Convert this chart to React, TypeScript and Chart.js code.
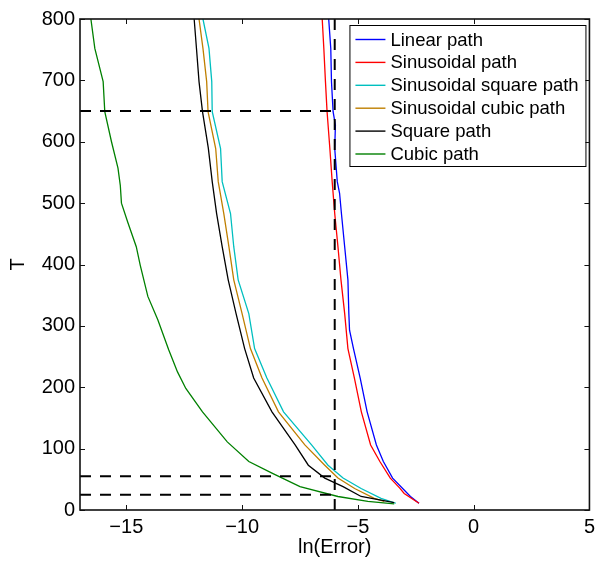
import React, { useEffect, useRef } from 'react';
import { Chart, registerables } from 'chart.js';

Chart.register(...registerables);

// ---- axes ----
const X_MIN = -17;
const X_MAX = 5;
const Y_MIN = 0;
const Y_MAX = 800;
const X_TICKS = [-15, -10, -5, 0, 5];
const X_TICK_LABELS = ['−15', '−10', '−5', '0', '5'];
const Y_TICKS = [0, 100, 200, 300, 400, 500, 600, 700, 800];
const Y_TICK_LABELS = ['0', '100', '200', '300', '400', '500', '600', '700', '800'];
const X_TITLE = 'ln(Error)';
const Y_TITLE = 'T';

// ---- series (T values and ln(Error) values) ----
const LINEAR_T = [800, 752, 698, 649, 627, 589, 535, 516, 483, 429, 375, 320, 293, 263, 215, 160, 106, 79, 52, 22, 11];
const LINEAR_ERR = [-6.26, -6.17, -6.14, -6.07, -5.97, -6.0, -5.89, -5.79, -5.71, -5.57, -5.43, -5.39, -5.36, -5.19, -4.9, -4.6, -4.2, -3.9, -3.5, -2.73, -2.36];

const SIN_T = [800, 752, 698, 649, 589, 535, 483, 429, 375, 320, 263, 215, 160, 106, 79, 52, 36, 27, 11];
const SIN_ERR = [-6.54, -6.47, -6.4, -6.33, -6.21, -6.11, -6.0, -5.86, -5.73, -5.57, -5.43, -5.15, -4.85, -4.45, -4.05, -3.6, -3.2, -3.0, -2.36];

const SINSQ_T = [800, 752, 698, 649, 589, 535, 483, 429, 375, 320, 263, 215, 160, 106, 73, 52, 35, 19, 11];
const SINSQ_ERR = [-11.69, -11.43, -11.31, -11.29, -10.93, -10.86, -10.5, -10.36, -10.17, -9.71, -9.46, -8.93, -8.21, -7.0, -6.29, -5.64, -4.86, -4.0, -3.36];

const SINCU_T = [800, 752, 698, 649, 589, 535, 483, 429, 375, 320, 263, 215, 160, 106, 73, 52, 35, 19, 14];
const SINCU_ERR = [-11.86, -11.69, -11.53, -11.47, -11.14, -11.03, -10.79, -10.57, -10.36, -10.0, -9.64, -9.14, -8.43, -7.29, -6.43, -5.86, -5.14, -4.29, -3.86];

const SQUARE_T = [800, 752, 698, 649, 590, 535, 483, 429, 375, 320, 263, 215, 160, 106, 73, 52, 38, 22, 12];
const SQUARE_ERR = [-12.07, -11.97, -11.86, -11.71, -11.46, -11.29, -11.1, -10.86, -10.6, -10.26, -9.89, -9.5, -8.71, -7.71, -7.14, -6.43, -5.64, -4.86, -3.43];

const CUBIC_T = [800, 752, 698, 649, 600, 557, 529, 500, 468, 429, 399, 348, 310, 261, 225, 198, 160, 111, 79, 60, 38, 22, 14, 10];
const CUBIC_ERR = [-16.53, -16.36, -16.0, -15.93, -15.64, -15.36, -15.26, -15.21, -14.93, -14.57, -14.4, -14.07, -13.64, -13.17, -12.79, -12.43, -11.71, -10.64, -9.71, -8.71, -7.5, -5.86, -4.57, -3.43];

const SERIES_NAMES = ['Linear path', 'Sinusoidal path', 'Sinusoidal square path', 'Sinusoidal cubic path', 'Square path', 'Cubic path'];
const SERIES_T = [LINEAR_T, SIN_T, SINSQ_T, SINCU_T, SQUARE_T, CUBIC_T];
const SERIES_ERR = [LINEAR_ERR, SIN_ERR, SINSQ_ERR, SINCU_ERR, SQUARE_ERR, CUBIC_ERR];
const SERIES_COLORS = ['#0000ff', '#ff0000', '#00bfbf', '#bf7f00', '#000000', '#008000'];

// ---- dashed reference lines ----
const REF_ERR = -6;
const REF_T_LEVELS = [650, 55, 25];

const FONT = '"Liberation Sans", Arial, Helvetica, sans-serif';

const framePlugin = {
  id: 'frame',
  afterDatasetsDraw(chart: any) {
    const { ctx, chartArea } = chart;
    const { left, right, top, bottom } = chartArea;
    const xs = chart.scales.x;
    const ys = chart.scales.y;
    const tl = 5;
    ctx.save();
    ctx.strokeStyle = '#111';
    ctx.lineWidth = 1;
    X_TICKS.forEach((v) => {
      const p = Math.round(xs.getPixelForValue(v)) + 0.5;
      ctx.beginPath();
      ctx.moveTo(p, bottom);
      ctx.lineTo(p, bottom - tl);
      ctx.moveTo(p, top);
      ctx.lineTo(p, top + tl);
      ctx.stroke();
    });
    Y_TICKS.forEach((v) => {
      const p = Math.round(ys.getPixelForValue(v)) + 0.5;
      ctx.beginPath();
      ctx.moveTo(left, p);
      ctx.lineTo(left + tl, p);
      ctx.moveTo(right, p);
      ctx.lineTo(right - tl, p);
      ctx.stroke();
    });
    ctx.lineWidth = 1.6;
    ctx.strokeStyle = '#111';
    ctx.strokeRect(left, top, right - left, bottom - top);
    ctx.restore();
  },
};

const legendPlugin = {
  id: 'boxLegend',
  afterDraw(chart: any) {
    const { ctx, chartArea } = chart;
    const w = 236;
    const h = 141;
    const x0 = chartArea.right - w - 4;
    const y0 = chartArea.top + 6;
    ctx.save();
    ctx.fillStyle = '#fff';
    ctx.fillRect(x0, y0, w, h);
    ctx.strokeStyle = '#000';
    ctx.lineWidth = 1;
    ctx.strokeRect(x0 + 0.5, y0 + 0.5, w, h);
    ctx.font = `18.5px ${FONT}`;
    ctx.textBaseline = 'middle';
    ctx.textAlign = 'left';
    SERIES_NAMES.forEach((name, i) => {
      const cy = y0 + 14.5 + i * 22.9;
      ctx.strokeStyle = SERIES_COLORS[i];
      ctx.lineWidth = 1.4;
      ctx.beginPath();
      ctx.moveTo(x0 + 6, cy);
      ctx.lineTo(x0 + 36, cy);
      ctx.stroke();
      ctx.fillStyle = '#000';
      ctx.fillText(name, x0 + 41, cy + 1);
    });
    ctx.restore();
  },
};

export default function App() {
  const ref = useRef<HTMLCanvasElement>(null);

  useEffect(() => {
    document.body.style.margin = '0';
    const canvas = ref.current;
    if (!canvas) return;

    const seriesSets = SERIES_NAMES.map((name, i) => ({
      label: name,
      data: SERIES_T[i].map((t, j) => ({ x: SERIES_ERR[i][j], y: t })),
      borderColor: SERIES_COLORS[i],
      backgroundColor: SERIES_COLORS[i],
      borderWidth: 1.3,
      showLine: true,
      pointRadius: 0,
      fill: false,
      order: 10 - i,
    }));

    const dashStyle = {
      borderColor: '#000',
      backgroundColor: '#000',
      borderWidth: 2,
      borderDash: [11, 9],
      showLine: true,
      pointRadius: 0,
      fill: false,
      order: 0,
    };

    const refSets = [
      ...REF_T_LEVELS.map((t) => ({
        label: `T=${t}`,
        data: [
          { x: X_MIN, y: t },
          { x: REF_ERR, y: t },
        ],
        ...dashStyle,
      })),
      {
        label: 'ref',
        data: [
          { x: REF_ERR, y: Y_MIN },
          { x: REF_ERR, y: Y_MAX },
        ],
        ...dashStyle,
      },
    ];

    const chart = new Chart(canvas, {
      type: 'scatter',
      data: { datasets: [...seriesSets, ...refSets] as any },
      options: {
        animation: false,
        responsive: false,
        devicePixelRatio: 1,
        layout: { padding: { top: 19, right: 7, left: 0, bottom: 0 } },
        plugins: { legend: { display: false }, tooltip: { enabled: false } },
        elements: { line: { tension: 0 }, point: { radius: 0 } },
        scales: {
          x: {
            type: 'linear',
            min: X_MIN,
            max: X_MAX,
            grid: { display: false, drawTicks: false },
            border: { display: false },
            afterBuildTicks: (s: any) => {
              s.ticks = X_TICKS.map((v) => ({ value: v }));
            },
            afterFit: (s: any) => {
              s.height = 51;
            },
            ticks: {
              padding: 5,
              color: '#000',
              maxRotation: 0,
              autoSkip: false,
              font: { family: FONT, size: 20 },
              callback: (_v: any, i: number) => X_TICK_LABELS[i],
            },
            title: {
              display: true,
              text: X_TITLE,
              color: '#000',
              font: { family: FONT, size: 20 },
              padding: { top: 0, bottom: 2 },
            },
          },
          y: {
            type: 'linear',
            min: Y_MIN,
            max: Y_MAX,
            grid: { display: false, drawTicks: false },
            border: { display: false },
            afterBuildTicks: (s: any) => {
              s.ticks = Y_TICKS.map((v) => ({ value: v }));
            },
            afterFit: (s: any) => {
              s.width = 80;
            },
            ticks: {
              padding: 5,
              color: '#000',
              autoSkip: false,
              font: { family: FONT, size: 20 },
              callback: (_v: any, i: number) => Y_TICK_LABELS[i],
            },
            title: {
              display: true,
              text: Y_TITLE,
              color: '#000',
              font: { family: FONT, size: 20 },
              padding: { top: 6, bottom: 0 },
            },
          },
        },
      } as any,
      plugins: [framePlugin, legendPlugin],
    });

    return () => chart.destroy();
  }, []);

  return (
    <canvas
      ref={ref}
      width={600}
      height={561}
      style={{ display: 'block', width: '600px', height: '561px' }}
    />
  );
}
